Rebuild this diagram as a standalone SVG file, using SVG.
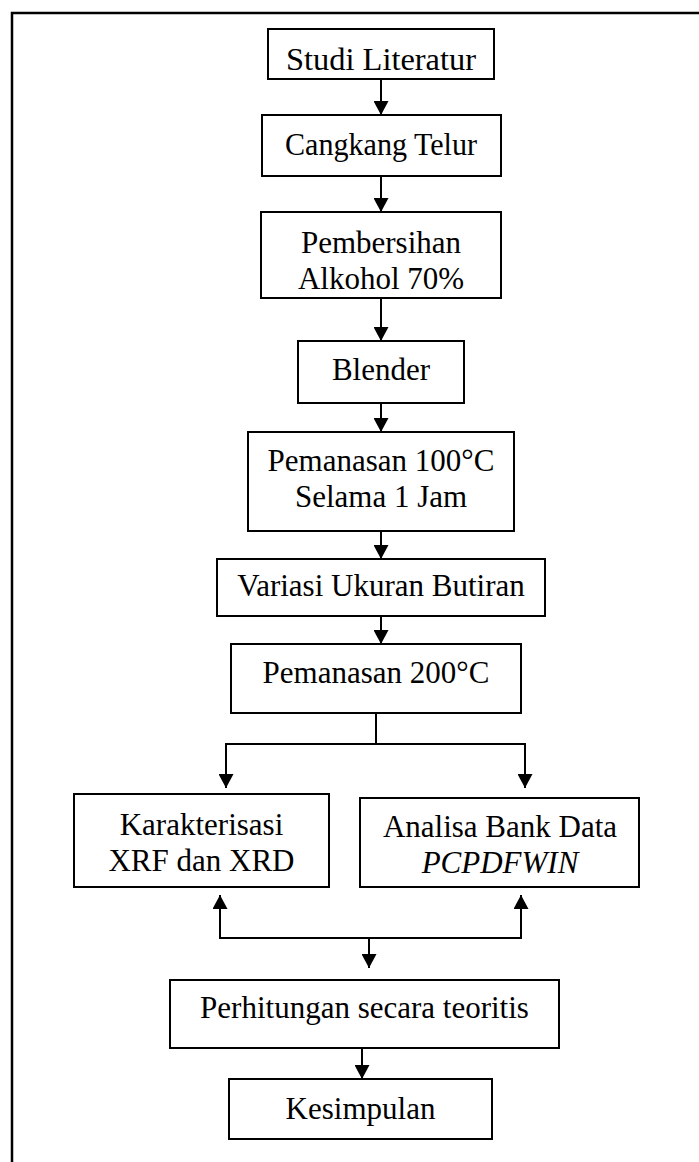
<svg xmlns="http://www.w3.org/2000/svg" width="699" height="1162" viewBox="0 0 699 1162">
<defs>
<style>
.box{fill:#fff;stroke:#000;stroke-width:2}
.t{font-family:"Liberation Serif","Times New Roman",serif;font-size:31px;fill:#000;text-anchor:middle}
.big{font-size:32px}
.it{font-style:italic}
.c{fill:none;stroke:#000;stroke-width:2}
</style>
<marker id="ah" markerUnits="userSpaceOnUse" markerWidth="15" markerHeight="15" refX="14" refY="7.5" orient="auto" viewBox="0 0 15 15">
<path d="M0,0 L14,7.5 L0,15 z" fill="#000"/>
</marker>
</defs>
<rect width="699" height="1162" fill="#fff"/>
<path d="M12,1170 L12,13 L710,13" fill="none" stroke="#000" stroke-width="2.5"/>
<g id="connectors">
<line class="c" x1="381" y1="79" x2="381" y2="115" marker-end="url(#ah)"/>
<line class="c" x1="381" y1="176" x2="381" y2="212" marker-end="url(#ah)"/>
<line class="c" x1="381" y1="298" x2="381" y2="341" marker-end="url(#ah)"/>
<line class="c" x1="381" y1="403" x2="381" y2="432" marker-end="url(#ah)"/>
<line class="c" x1="381" y1="531" x2="381" y2="559" marker-end="url(#ah)"/>
<line class="c" x1="381" y1="616" x2="381" y2="644" marker-end="url(#ah)"/>
<line class="c" x1="376" y1="713" x2="376" y2="744"/>
<path class="c" d="M376,744 L226,744 L226,788" marker-end="url(#ah)"/>
<path class="c" d="M376,744 L525,744 L525,788" marker-end="url(#ah)"/>
<path class="c" d="M369,938 L220,938 L220,895" marker-end="url(#ah)"/>
<path class="c" d="M369,938 L521,938 L521,895" marker-end="url(#ah)"/>
<line class="c" x1="369" y1="937" x2="369" y2="968" marker-end="url(#ah)"/>
<line class="c" x1="362" y1="1048" x2="362" y2="1079" marker-end="url(#ah)"/>
</g>
<g id="studi"><rect class="box" x="268" y="29" width="226" height="50"/><text class="t big" x="381" y="70" textLength="190" lengthAdjust="spacingAndGlyphs">Studi Literatur</text></g>
<g id="cangkang"><rect class="box" x="262" y="115" width="239" height="61"/><text class="t big" x="381" y="155" textLength="192" lengthAdjust="spacingAndGlyphs">Cangkang Telur</text></g>
<g id="pembersihan"><rect class="box" x="261" y="212" width="240" height="86"/><text class="t" x="381" y="253">Pembersihan</text><text class="t" x="381" y="289">Alkohol 70%</text></g>
<g id="blender"><rect class="box" x="298" y="341" width="166" height="62"/><text class="t" x="381" y="380">Blender</text></g>
<g id="pemanasan100"><rect class="box" x="248" y="432" width="266" height="99"/><text class="t" x="381" y="471">Pemanasan 100°C</text><text class="t" x="381" y="507">Selama 1 Jam</text></g>
<g id="variasi"><rect class="box" x="217" y="559" width="328" height="57"/><text class="t" x="381" y="596">Variasi Ukuran Butiran</text></g>
<g id="pemanasan200"><rect class="box" x="231" y="644" width="290" height="69"/><text class="t" x="376" y="683">Pemanasan 200°C</text></g>
<g id="karakterisasi"><rect class="box" x="74" y="794" width="255" height="93"/><text class="t" x="201.5" y="835">Karakterisasi</text><text class="t" x="201.5" y="871">XRF dan XRD</text></g>
<g id="analisa"><rect class="box" x="360" y="798" width="279" height="89"/><text class="t" x="500" y="837">Analisa Bank Data</text><text class="t it" x="500" y="873">PCPDFWIN</text></g>
<g id="perhitungan"><rect class="box" x="170" y="980" width="389" height="68"/><text class="t" x="364.5" y="1018">Perhitungan secara teoritis</text></g>
<g id="kesimpulan"><rect class="box" x="229" y="1079" width="263" height="60"/><text class="t" x="360.5" y="1119">Kesimpulan</text></g>
</svg>
